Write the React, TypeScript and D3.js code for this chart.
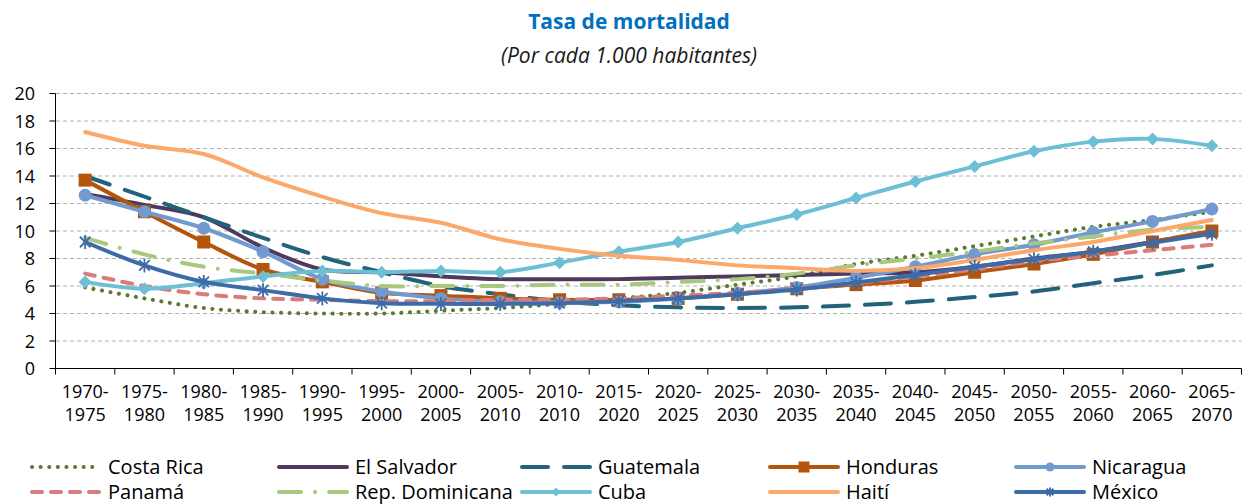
import React from "react";
import * as d3 from "d3";

// periods (x axis)
const periods = [
  "1970-1975", "1975-1980", "1980-1985", "1985-1990", "1990-1995",
  "1995-2000", "2000-2005", "2005-2010", "2010-2010", "2015-2020",
  "2020-2025", "2025-2030", "2030-2035", "2035-2040", "2040-2045",
  "2045-2050", "2050-2055", "2055-2060", "2060-2065", "2065-2070",
];

const yTicks = [0, 2, 4, 6, 8, 10, 12, 14, 16, 18, 20];

const costaRica = [5.9, 5.1, 4.4, 4.1, 4.0, 4.0, 4.2, 4.4, 4.7, 5.1, 5.5, 6.1, 6.7, 7.6, 8.2, 8.9, 9.6, 10.3, 10.8, 11.4];
const elSalvador = [12.7, 11.9, 11.0, 8.8, 7.2, 7.0, 6.7, 6.5, 6.5, 6.5, 6.6, 6.7, 6.8, 6.9, 7.0, 7.4, 8.0, 8.5, 9.2, 9.9];
const guatemala = [14.0, 12.5, 11.0, 9.5, 8.1, 7.0, 6.0, 5.4, 4.9, 4.6, 4.45, 4.4, 4.45, 4.6, 4.85, 5.2, 5.6, 6.2, 6.8, 7.5];
const honduras = [13.7, 11.4, 9.2, 7.2, 6.3, 5.5, 5.3, 5.1, 5.0, 5.0, 5.1, 5.4, 5.8, 6.1, 6.4, 7.0, 7.6, 8.3, 9.2, 10.0];
const nicaragua = [12.6, 11.4, 10.2, 8.5, 6.5, 5.6, 5.1, 4.85, 4.8, 4.85, 5.1, 5.45, 5.9, 6.6, 7.4, 8.3, 9.0, 9.9, 10.7, 11.6];
const panama = [6.9, 6.0, 5.4, 5.1, 5.0, 4.9, 4.9, 5.0, 5.0, 5.1, 5.3, 5.5, 5.8, 6.2, 6.7, 7.2, 7.8, 8.2, 8.6, 9.0];
const repDominicana = [9.5, 8.3, 7.4, 6.9, 6.4, 6.0, 6.0, 6.0, 6.1, 6.1, 6.3, 6.5, 6.9, 7.5, 8.0, 8.5, 9.1, 9.6, 10.1, 10.3];
const cuba = [6.3, 5.8, 6.2, 6.7, 7.1, 7.0, 7.1, 7.0, 7.7, 8.5, 9.2, 10.2, 11.2, 12.4, 13.6, 14.7, 15.8, 16.5, 16.7, 16.2];
const haiti = [17.2, 16.2, 15.6, 13.9, 12.5, 11.3, 10.6, 9.4, 8.7, 8.2, 7.9, 7.5, 7.3, 7.1, 7.3, 7.9, 8.6, 9.2, 10.0, 10.8];
const mexico = [9.2, 7.5, 6.3, 5.7, 5.1, 4.75, 4.7, 4.7, 4.75, 4.9, 5.1, 5.4, 5.75, 6.25, 6.8, 7.4, 7.95, 8.5, 9.15, 9.8];

type Marker = "none" | "square" | "circle" | "diamond" | "star";
type Series = { name: string; values: number[]; color: string; dash: string; marker: Marker };

const series: Series[] = [
  { name: "Costa Rica", values: costaRica, color: "#5b7a2e", dash: "0.1 8.5", marker: "none" },
  { name: "El Salvador", values: elSalvador, color: "#4d3a5e", dash: "", marker: "none" },
  { name: "Guatemala", values: guatemala, color: "#22627a", dash: "26 16", marker: "none" },
  { name: "Honduras", values: honduras, color: "#b4550b", dash: "", marker: "square" },
  { name: "Nicaragua", values: nicaragua, color: "#729acf", dash: "", marker: "circle" },
  { name: "Panamá", values: panama, color: "#d87d7b", dash: "10 9", marker: "none" },
  { name: "Rep. Dominicana", values: repDominicana, color: "#a8c87e", dash: "22 14 0.1 14", marker: "none" },
  { name: "Cuba", values: cuba, color: "#6dbfd5", dash: "", marker: "diamond" },
  { name: "Haití", values: haiti, color: "#fba86a", dash: "", marker: "none" },
  { name: "México", values: mexico, color: "#3d6ba8", dash: "", marker: "star" },
];

const W = 1243;
const H = 504;
const font = "'Open Sans', 'Noto Sans', sans-serif";

function MarkerShape({ type, x, y, color, size }: { type: Marker; x: number; y: number; color: string; size: number }) {
  const h = size / 2;
  if (type === "square") return <rect x={x - h} y={y - h} width={size} height={size} fill={color} />;
  if (type === "circle") return <circle cx={x} cy={y} r={h} fill={color} />;
  if (type === "diamond")
    return <path d={`M${x},${y - h}L${x + h},${y}L${x},${y + h}L${x - h},${y}Z`} fill={color} />;
  if (type === "star") {
    const d = h * 0.75;
    return (
      <path
        d={`M${x},${y - h}L${x},${y + h}M${x - d},${y - d}L${x + d},${y + d}M${x - d},${y + d}L${x + d},${y - d}`}
        stroke={color}
        strokeWidth={1.8}
        fill="none"
      />
    );
  }
  return null;
}

export default function App() {
  const x = d3.scaleBand<string>().domain(periods).range([55.5, 1241.5]).padding(0);
  const y = d3.scaleLinear().domain([0, 20]).range([368.5, 93.5]);
  const cx = (p: string) => (x(p) as number) + x.bandwidth() / 2;

  const line = d3
    .line<number>()
    .x((_, i) => cx(periods[i]))
    .y((d) => y(d))
    .curve(d3.curveCatmullRom.alpha(0.5));

  const bounds = periods.map((p) => x(p) as number).concat([x.range()[1]]);

  const legendCols = [32, 279, 522, 770, 1016];
  const legendRows = [467, 492];

  return (
    <svg width={W} height={H} style={{ position: "absolute", left: 0, top: 0, background: "#fff" }} fontFamily={font}>
      <text x={629} y={29} textAnchor="middle" fontSize={21} fontWeight={700} fill="#0070c0">
        Tasa de mortalidad
      </text>
      <text x={629} y={63} textAnchor="middle" fontSize={21} fontStyle="italic" fill="#1a1a1a">
        (Por cada 1.000 habitantes)
      </text>

      {/* grid */}
      {yTicks.filter((t) => t > 0).map((t) => (
        <line key={t} x1={56} x2={1241.5} y1={y(t)} y2={y(t)} stroke="#b0b0b0" strokeWidth={1} strokeDasharray="4 3" />
      ))}

      {/* axes */}
      <line x1={55.5} x2={55.5} y1={y(20)} y2={y(0)} stroke="#000" strokeWidth={1} />
      <line x1={55.5} x2={1241.5} y1={y(0)} y2={y(0)} stroke="#000" strokeWidth={1} />
      {yTicks.map((t) => (
        <g key={t}>
          <line x1={49.5} x2={55.5} y1={y(t)} y2={y(t)} stroke="#000" />
          <text x={35} y={y(t) + 6.5} textAnchor="end" fontSize={18} fill="#000">
            {t}
          </text>
        </g>
      ))}
      {bounds.map((b, i) => (
        <line key={i} x1={b} x2={b} y1={y(0)} y2={y(0) + 6} stroke="#000" />
      ))}
      {periods.map((p) => {
        const [a, b] = p.split("-");
        return (
          <text key={p} textAnchor="middle" fontSize={18} fill="#000">
            <tspan x={cx(p)} y={398}>{a + "-"}</tspan>
            <tspan x={cx(p)} y={421}>{b}</tspan>
          </text>
        );
      })}

      {/* series */}
      {series.map((s) => (
        <g key={s.name}>
          <path
            d={line(s.values) as string}
            fill="none"
            stroke={s.color}
            strokeWidth={4}
            strokeDasharray={s.dash || undefined}
            strokeLinecap="round"
            strokeLinejoin="round"
          />
          {s.marker !== "none" &&
            s.values.map((v, i) => (
              <MarkerShape key={i} type={s.marker} x={cx(periods[i])} y={y(v)} color={s.color} size={s.marker === "star" ? 14 : 13} />
            ))}
        </g>
      ))}

      {/* legend */}
      {series.map((s, i) => {
        const lx = legendCols[i % 5];
        const ly = legendRows[Math.floor(i / 5)];
        return (
          <g key={s.name}>
            <line
              x1={lx}
              x2={lx + 68}
              y1={ly}
              y2={ly}
              stroke={s.color}
              strokeWidth={4}
              strokeDasharray={s.dash || undefined}
              strokeLinecap="round"
            />
            {s.marker !== "none" && (
              <MarkerShape type={s.marker} x={lx + 34} y={ly} color={s.color} size={s.marker === "square" ? 11 : 9} />
            )}
            <text x={lx + 76} y={ly + 7} fontSize={20} fill="#000">
              {s.name}
            </text>
          </g>
        );
      })}
    </svg>
  );
}
